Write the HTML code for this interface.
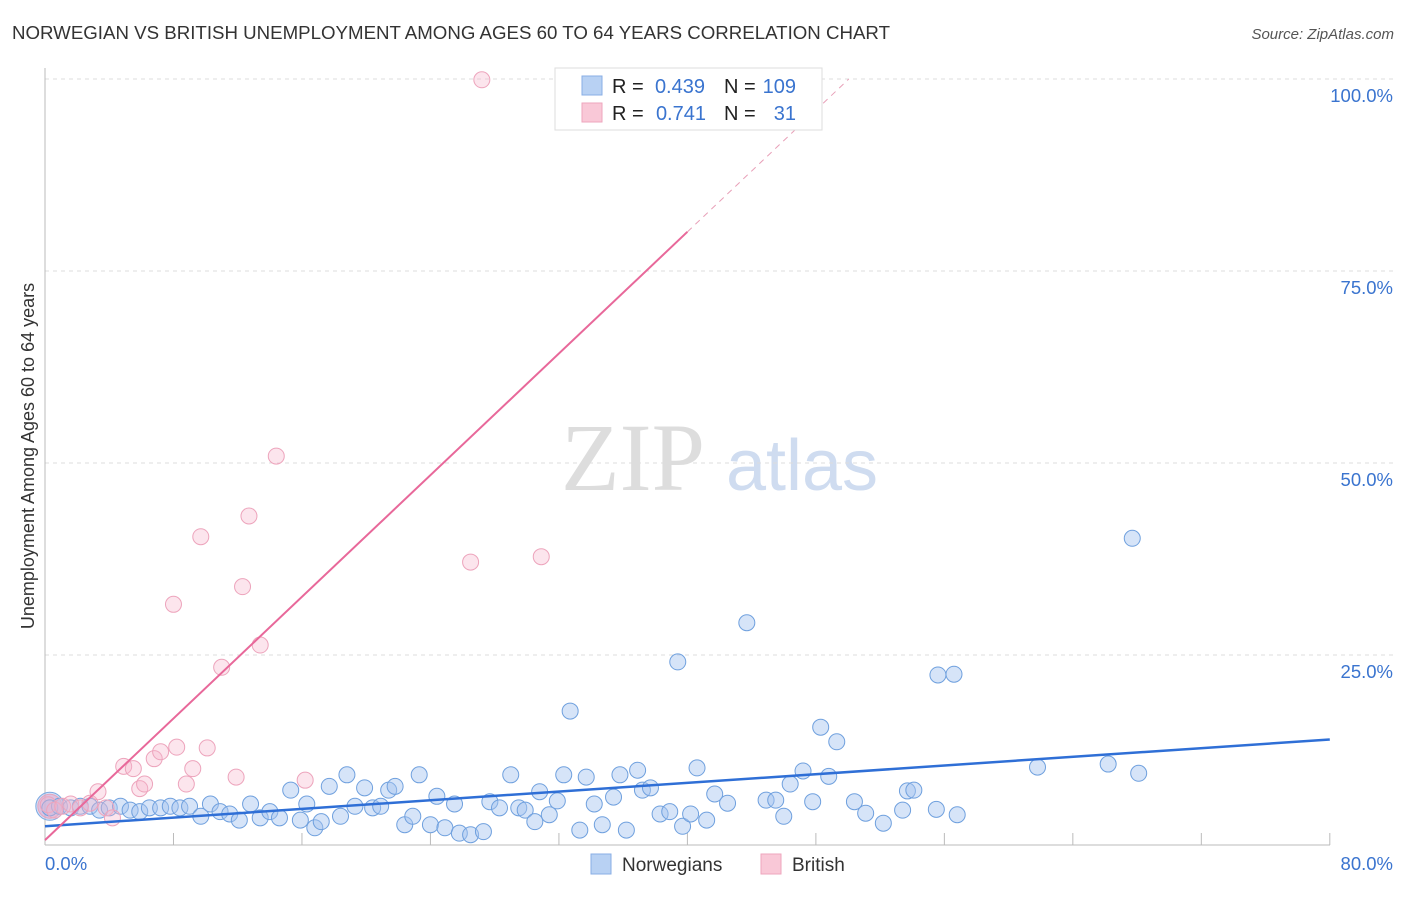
<!DOCTYPE html>
<html><head><meta charset="utf-8"><style>
body{margin:0;background:#fff;font-family:"Liberation Sans",sans-serif;}
svg text{font-family:"Liberation Sans",sans-serif;}
</style></head><body>
<svg id="chart" width="1406" height="892" xmlns="http://www.w3.org/2000/svg">
<text x="12" y="39" font-size="18" fill="#333" textLength="878" lengthAdjust="spacingAndGlyphs">NORWEGIAN VS BRITISH UNEMPLOYMENT AMONG AGES 60 TO 64 YEARS CORRELATION CHART</text>
<text x="1394" y="39" font-size="15" fill="#555" font-style="italic" text-anchor="end">Source: ZipAtlas.com</text>
<text x="34" y="456" font-size="18" fill="#333" text-anchor="middle" transform="rotate(-90 34 456)">Unemployment Among Ages 60 to 64 years</text>
<g><text x="633" y="490" font-size="96" fill="#ddd" text-anchor="middle" style="font-family:'Liberation Serif',serif">ZIP</text><text x="802" y="490" font-size="72" fill="#cfdcf0" text-anchor="middle">atlas</text></g>
<g id="grid"></g><g id="axes"></g><g id="marks"></g>
<g>
<rect x="555" y="68" width="267" height="62" fill="#fff" stroke="#ddd"/>
<rect x="582" y="76" width="20" height="19" fill="#b8d1f3" stroke="#88aee4"/>
<rect x="582" y="103" width="20" height="19" fill="#f9c8d7" stroke="#eea6bd"/>
<text x="612" y="93" font-size="20" fill="#222">R =</text>
<text x="705" y="93" font-size="20" fill="#3a74cf" text-anchor="end">0.439</text>
<text x="724" y="93" font-size="20" fill="#222">N =</text>
<text x="796" y="93" font-size="20" fill="#3a74cf" text-anchor="end">109</text>
<text x="612" y="120" font-size="20" fill="#222">R =</text>
<text x="706" y="120" font-size="20" fill="#3a74cf" text-anchor="end">0.741</text>
<text x="724" y="120" font-size="20" fill="#222">N =</text>
<text x="796" y="120" font-size="20" fill="#3a74cf" text-anchor="end">31</text>
</g>
<g>
<rect x="591" y="854" width="20" height="20" fill="#b8d1f3" stroke="#88aee4"/>
<text x="622" y="871" font-size="19" fill="#333">Norwegians</text>
<rect x="761" y="854" width="20" height="20" fill="#f9c8d7" stroke="#eea6bd"/>
<text x="792" y="871" font-size="19" fill="#333">British</text>
</g>
</svg>
<script>
const blueX=[0.3,0.9,1.6,2.2,2.8,3.4,4.0,4.7,5.3,5.9,6.5,7.2,7.8,8.4,9.0,9.7,10.3,10.9,11.5,12.1,12.8,13.4,14.0,14.6,15.3,15.9,16.3,16.8,17.2,17.7,18.4,18.8,19.3,19.9,20.4,20.9,21.4,21.8,22.4,22.9,23.3,24.0,24.4,24.9,25.5,25.8,26.5,27.3,27.7,28.3,29.0,29.5,29.9,30.5,30.8,31.4,31.9,32.3,32.7,33.3,33.7,34.2,34.7,35.4,35.8,36.2,36.9,37.2,37.7,38.3,38.9,39.4,39.7,40.2,40.6,41.2,41.7,42.5,43.7,44.9,45.5,46.0,46.4,47.2,47.8,48.3,48.8,49.3,50.4,51.1,52.2,53.4,53.7,54.1,55.6,56.6,55.5,56.8,61.8,66.2,67.7,68.1];
const blueY=[5.1,5.3,5.1,5.3,5.3,4.8,5.1,5.3,4.8,4.6,5.1,5.1,5.3,5.1,5.3,4.0,5.6,4.6,4.3,3.5,5.6,3.8,4.6,3.8,7.4,3.5,5.6,2.5,3.3,7.9,4.0,9.4,5.3,7.7,5.1,5.3,7.4,7.9,2.9,4.0,9.4,2.9,6.6,2.5,5.6,1.8,1.6,2.0,5.9,5.1,9.4,5.1,4.8,3.3,7.2,4.2,6.0,9.4,17.7,2.2,9.1,5.6,2.9,6.5,9.4,2.2,10.0,7.4,7.7,4.3,4.6,24.1,2.7,4.3,10.3,3.5,6.9,5.7,29.2,6.1,6.1,4.0,8.2,9.9,5.9,15.6,9.2,13.7,5.9,4.4,3.1,4.8,7.3,7.4,22.4,22.5,4.9,4.2,10.4,10.8,40.2,9.6];
const pinkX=[0.2,0.6,1.1,1.6,2.2,2.8,3.3,3.8,4.2,4.9,5.5,5.9,6.2,6.8,7.2,8.0,8.2,8.8,9.2,9.7,10.1,11.0,11.9,12.3,12.7,13.4,14.4,16.2,26.5,27.2,30.9];
const pinkY=[5.5,4.8,5.3,5.6,5.1,5.7,7.2,5.1,3.8,10.5,10.2,7.6,8.2,11.5,12.4,31.6,13.0,8.2,10.2,40.4,12.9,23.4,9.1,33.9,43.1,26.3,50.9,8.7,37.1,99.9,37.8];
const yTicks=[25,50,75,100];
const yTickLabels=["25.0%","50.0%","75.0%","100.0%"];
const xTicks=[0,8,16,24,32,40,48,56,64,72,80];
const blueTrend=[2.7,14.0];
const pinkTrend=[0.9,1.98];
const NS="http://www.w3.org/2000/svg";
const X=v=>45+v*16.06, Y=v=>847-v*7.68;
function mk(tag,attrs,parent){const e=document.createElementNS(NS,tag);for(const k in attrs)e.setAttribute(k,attrs[k]);document.getElementById(parent).appendChild(e);return e;}
yTicks.forEach((t,i)=>{
 const l=mk('line',{x1:45,x2:1395,y1:Y(t),y2:Y(t),stroke:'#ddd','stroke-dasharray':'4,4'},'grid');
 
 
 const tx=mk('text',{x:1393,y:Y(t)+23,'font-size':18.5,fill:'#3a74cf','text-anchor':'end'},'grid');
 tx.textContent=yTickLabels[i];
 
 
});
const ax=mk('line',{x1:45,x2:45,y1:68,y2:845,stroke:'#bbb'},'axes');


const bx=mk('line',{x1:45,x2:1330,y1:845,y2:845,stroke:'#bbb'},'axes');


xTicks.forEach(t=>{const l=mk('line',{x1:X(t),x2:X(t),y1:833,y2:845,stroke:'#bbb'},'axes');
 
 });
const t0=mk('text',{x:45,y:870,'font-size':18.5,fill:'#3a74cf'},'axes');t0.textContent='0.0%';


const t1=mk('text',{x:1393,y:870,'font-size':18.5,fill:'#3a74cf','text-anchor':'end'},'axes');t1.textContent='80.0%';


const bb=mk('circle',{cx:X(0.3),cy:Y(5.3),r:14,fill:'rgba(164,196,240,0.5)',stroke:'#7ea8e0'},'marks');


const bp=mk('circle',{cx:X(0.3),cy:Y(5.3),r:12,fill:'rgba(230,160,200,0.45)',stroke:'#e6a4bd'},'marks');


blueX.forEach((x,i)=>{const c=mk('circle',{cx:X(x),cy:Y(blueY[i]),r:8,fill:'rgba(164,196,240,0.45)',stroke:'#6fa0de','stroke-width':1},'marks');
 
 });
pinkX.forEach((x,i)=>{const c=mk('circle',{cx:X(x),cy:Y(pinkY[i]),r:8,fill:'rgba(246,180,202,0.35)',stroke:'#eda4bc','stroke-width':1},'marks');
 
 });
const bl=mk('line',{x1:X(0),y1:Y(blueTrend[0]),x2:X(80),y2:Y(blueTrend[1]),stroke:'#2f6fd6','stroke-width':2.5},'marks');


const pEnd=40, pDash=(100-pinkTrend[0])/pinkTrend[1];
const pl=mk('line',{x1:X(0),y1:Y(pinkTrend[0]),x2:X(pEnd),y2:Y(pinkTrend[0]+pinkTrend[1]*pEnd),stroke:'#e8689a','stroke-width':2},'marks');


const pd=mk('line',{x1:X(pEnd),y1:Y(pinkTrend[0]+pinkTrend[1]*pEnd),x2:X(pDash),y2:Y(100),stroke:'#e8a0b8','stroke-width':1,'stroke-dasharray':'6,5'},'marks');


</script>
</body></html>
